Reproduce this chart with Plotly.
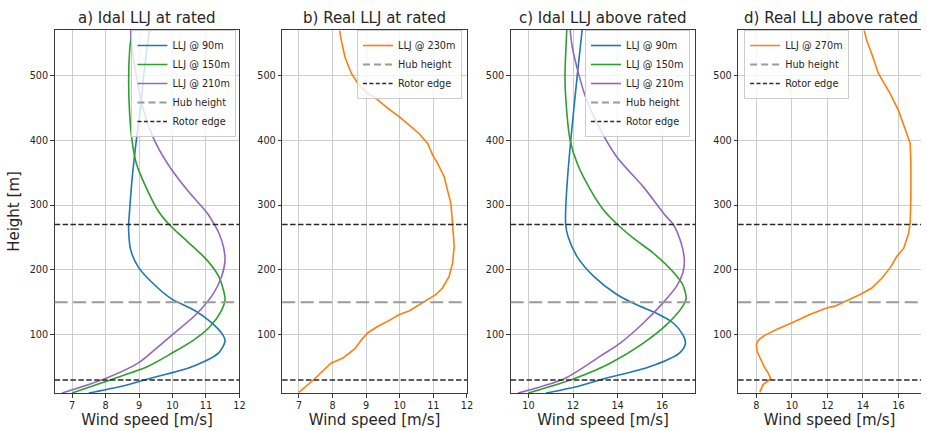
import plotly.graph_objects as go

# ---------------- data ----------------
# Panel a) ideal LLJ at rated
a90_h = [10, 20, 32, 51, 72, 90, 100, 120, 138, 156, 182, 205, 231, 251, 270, 285, 338, 400, 451, 500, 570]
a90_v = [7.5, 8.45, 9.3, 10.6, 11.38, 11.57, 11.5, 11.13, 10.64, 9.95, 9.36, 8.97, 8.75, 8.7, 8.69, 8.71, 8.79, 8.92, 9.05, 9.14, 9.31]

a150_h = [10, 31, 51, 72, 92, 113, 138, 154, 169, 190, 215, 244, 270, 292, 333, 364, 400, 441, 492, 538, 570]
a150_v = [7.0, 8.18, 9.26, 10.0, 10.64, 11.13, 11.47, 11.57, 11.52, 11.38, 11.03, 10.44, 9.9, 9.56, 9.16, 8.92, 8.79, 8.72, 8.69, 8.72, 8.79]

a210_h = [10, 32, 56, 78, 100, 133, 164, 190, 215, 236, 255, 270, 288, 323, 364, 400, 451, 500, 543, 570]
a210_v = [6.7, 7.98, 8.97, 9.5, 10.0, 10.74, 11.23, 11.47, 11.57, 11.52, 11.4, 11.25, 11.03, 10.44, 9.85, 9.46, 9.11, 8.92, 8.79, 8.75]

# Panel b) real LLJ at rated
b230_h = [11, 32, 56, 64, 78, 92, 103, 113, 122, 131, 137, 146, 153, 162, 172, 190, 210, 236, 272, 303, 323,
          344, 364, 377, 395, 410, 423, 436, 449, 464, 475, 487, 503, 528, 554, 569]
b230_v = [7.0, 7.47, 7.95, 8.31, 8.66, 8.86, 9.05, 9.35, 9.69, 9.99, 10.29, 10.58, 10.83, 11.08, 11.27, 11.47, 11.57, 11.62, 11.57, 11.52, 11.42,
          11.32, 11.13, 10.98, 10.83, 10.58, 10.29, 9.99, 9.65, 9.3, 8.98, 8.76, 8.56, 8.37, 8.26, 8.21]

# Panel c) ideal LLJ above rated
c90_h = [10, 20, 32, 50, 72, 87, 100, 118, 133, 146, 162, 190, 220, 251, 270, 292, 340, 400, 500, 570]
c90_v = [10.79, 12.2, 13.4, 15.4, 16.79, 17.05, 16.93, 16.5, 15.75, 14.86, 13.97, 12.93, 12.19, 11.78, 11.67, 11.67, 11.75, 11.9, 12.19, 12.41]

c150_h = [10, 32, 56, 87, 115, 144, 156, 177, 197, 226, 249, 270, 292, 323, 364, 400, 467, 500, 570]
c150_v = [10.0, 12.04, 13.67, 15.16, 16.19, 16.93, 17.08, 16.93, 16.49, 15.6, 14.71, 14.0, 13.38, 12.79, 12.19, 11.87, 11.67, 11.64, 11.72]

c210_h = [10, 32, 67, 87, 118, 149, 174, 195, 215, 241, 270, 285, 328, 374, 426, 467, 500, 543, 570]
c210_v = [9.53, 11.6, 13.23, 14.12, 15.16, 16.04, 16.64, 16.93, 17.0, 16.86, 16.5, 16.12, 15.16, 13.97, 13.08, 12.56, 12.27, 11.97, 11.87]

# Panel d) real LLJ above rated
d270_h = [11, 23, 32, 41, 51, 64, 74, 85, 92, 99, 108, 118, 131, 141, 144, 151, 162, 172, 187, 203, 221, 233,
          256, 272, 313, 364, 395, 410, 446, 472, 503, 533, 554, 569]
d270_v = [8.19, 8.38, 8.81, 8.66, 8.43, 8.19, 8.04, 8.0, 8.13, 8.47, 9.13, 9.98, 11.01, 11.95, 12.43, 12.99, 13.84, 14.5, 15.06, 15.53, 15.91, 16.29,
          16.57, 16.66, 16.7, 16.7, 16.66, 16.47, 16.0, 15.53, 14.87, 14.5, 14.21, 14.08]

hub_height = [150]
rotor_edges = [30, 270]

titles = ["a) Idal LLJ at rated", "b) Real LLJ at rated", "c) Idal LLJ above rated", "d) Real LLJ above rated"]
x_title = "Wind speed [m/s]"
y_title = "Height [m]"

# ---------------- style ----------------
W, H = 927, 431
MT, MB = 30, 38
BLUE, GREEN, PURPLE, ORANGE = "#1f77b4", "#2ca02c", "#9467bd", "#ff7f0e"
HUB_COL, ROTOR_COL = "#9a9a9a", "#2a2a2a"
GRID, SPINE, TXT = "#cdcdcd", "#3a3a3a", "#262626"
FONT = "DejaVu Sans"

panels = [
    dict(series=[("LLJ @ 90m", a90_v, a90_h, BLUE), ("LLJ @ 150m", a150_v, a150_h, GREEN), ("LLJ @ 210m", a210_v, a210_h, PURPLE)],
         px=(55, 241), xrange=[6.48, 12.0], dtick=1, shape="spline", leg=(238, "right")),
    dict(series=[("LLJ @ 230m", b230_v, b230_h, ORANGE)],
         px=(284, 470), xrange=[6.5, 12.0], dtick=1, shape="linear", leg=(465, "right")),
    dict(series=[("LLJ @ 90m", c90_v, c90_h, BLUE), ("LLJ @ 150m", c150_v, c150_h, GREEN), ("LLJ @ 210m", c210_v, c210_h, PURPLE)],
         px=(514, 700), xrange=[9.2, 17.5], dtick=2, shape="spline", leg=(694.5, "right")),
    dict(series=[("LLJ @ 270m", d270_v, d270_h, ORANGE)],
         px=(743, 927), xrange=[6.976, 17.27], dtick=2, shape="linear", leg=(749, "left")),
]

fig = go.Figure()
layout = dict(width=W, height=H, margin=dict(l=0, r=0, t=MT, b=MB),
              paper_bgcolor="white", plot_bgcolor="white",
              font=dict(family=FONT, color=TXT), annotations=[], shapes=[])

plot_h = H - MT - MB

for i, p in enumerate(panels, start=1):
    sfx = "" if i == 1 else str(i)
    xa, ya, lg = "x" + sfx, "y" + sfx, "legend" + sfx
    for name, v, h, col in p["series"]:
        fig.add_trace(go.Scatter(x=v, y=h, mode="lines", name=name,
                                 line=dict(color=col, width=1.6, shape=p["shape"], smoothing=0.8),
                                 xaxis=xa, yaxis=ya, legend=lg, hoverinfo="skip"))
    fig.add_trace(go.Scatter(x=[None], y=[None], mode="lines", name="Hub height",
                             line=dict(color=HUB_COL, width=2, dash="7px,4px"),
                             xaxis=xa, yaxis=ya, legend=lg))
    fig.add_trace(go.Scatter(x=[None], y=[None], mode="lines", name="Rotor edge",
                             line=dict(color=ROTOR_COL, width=1.6, dash="4px,2.4px"),
                             xaxis=xa, yaxis=ya, legend=lg))
    for hh in hub_height:
        layout["shapes"].append(dict(type="line", xref=f"{xa} domain", x0=0, x1=1, yref=ya, y0=hh, y1=hh,
                                     line=dict(color=HUB_COL, width=2, dash="13px,5.5px")))
    for rh in rotor_edges:
        layout["shapes"].append(dict(type="line", xref=f"{xa} domain", x0=0, x1=1, yref=ya, y0=rh, y1=rh,
                                     line=dict(color=ROTOR_COL, width=1.6, dash="5.5px,2.4px")))
    x0, x1 = p["px"]
    layout["xaxis" + sfx] = dict(domain=[x0 / W, x1 / W], range=p["xrange"], dtick=p["dtick"], tick0=0,
                                 anchor=ya, showgrid=True, gridcolor=GRID, gridwidth=1, zeroline=False,
                                 showline=True, linecolor=SPINE, linewidth=1, mirror=True,
                                 ticks="outside", ticklen=3.5, tickwidth=1, tickcolor=SPINE,
                                 tickfont=dict(size=9.7, color=TXT),
                                 title=dict(text=x_title, font=dict(size=15, color=TXT), standoff=4))
    layout["yaxis" + sfx] = dict(domain=[0, 1], range=[10, 570], dtick=100, tick0=0, anchor=xa,
                                 showgrid=True, gridcolor=GRID, gridwidth=1, zeroline=False,
                                 showline=True, linecolor=SPINE, linewidth=1, mirror=(i != 4),
                                 ticks="outside", ticklen=3.5, tickwidth=1, tickcolor=SPINE,
                                 tickfont=dict(size=9.7, color=TXT))
    lx, anchor = p["leg"]
    layout[lg] = dict(x=lx / W, xanchor=anchor, y=(H - MB - 30) / plot_h, yanchor="top",
                      xref="paper", yref="paper",
                      bgcolor="rgba(255,255,255,0.8)", bordercolor="#cccccc", borderwidth=1,
                      font=dict(size=9.7, color=TXT), itemwidth=30, tracegroupgap=0)
    layout["annotations"].append(dict(text=titles[i - 1], x=(x0 + min(x1, 929) + (2 if i == 4 else 0)) / 2 / W,
                                      xref="paper", xanchor="center", y=(H - MB - 18) / plot_h, yref="paper",
                                      yanchor="middle", showarrow=False, font=dict(size=15, color=TXT)))

layout["yaxis"]["title"] = dict(text=y_title, font=dict(size=15, color=TXT), standoff=6)
fig.update_layout(**layout)
fig.write_html("out.html")
